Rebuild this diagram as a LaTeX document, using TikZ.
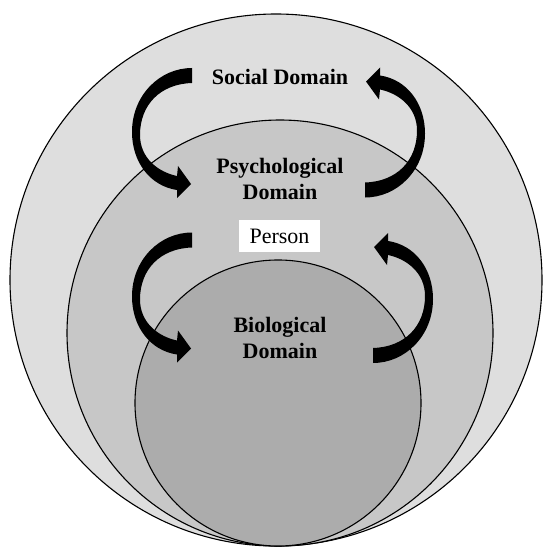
\documentclass[tikz,border=0pt]{standalone}
\usepackage{fontspec}
\setmainfont{Liberation Serif}
\definecolor{outerg}{RGB}{222,222,222}
\definecolor{midg}{RGB}{199,199,199}
\definecolor{innerg}{RGB}{172,172,172}
\tikzset{
  ring/.style={draw=black, line width=1.1pt},
  domainlabel/.style={font=\bfseries\fontsize{22}{26}\selectfont, align=center, inner sep=0pt},
  personbox/.style={fill=white, font=\fontsize{22}{26}\selectfont, minimum width=81pt, minimum height=32pt, inner sep=0pt},
  carrow/.pic={
    \fill[black] (192,68) -- (192,83)
      .. controls (160,84) and (140,105) .. (140,135)
      .. controls (140,158) and (158,172) .. (177,176)
      -- (178,166) -- (191,184) -- (177,198) -- (177,190)
      .. controls (150,186) and (132,162) .. (132,132)
      .. controls (132,95) and (160,68) .. (192,68) -- cycle;
  }
}
\begin{document}
\begin{tikzpicture}[x=1pt,y=-1pt]
\useasboundingbox (0,0) rectangle (542,548);
\path[ring, fill=outerg] (276,280) circle[radius=266];
\path[ring, fill=midg] (280,333) circle[radius=213];
\path[ring, fill=innerg] (278,403) circle[radius=143];

\node[domainlabel, anchor=base] (social) at (280,85) {Social Domain};
\node[domainlabel, anchor=north] (psych) at (280,158) {Psychological\\Domain};
\node[personbox] (person) at (279.5,236) {Person};
\node[domainlabel, anchor=north] (bio) at (280,317) {Biological\\Domain};

\pic at (0,0) {carrow};
\pic at (0,164.5) {carrow};
\pic[rotate around={180:(278.5,132.75)}] at (0,0) {carrow};
\pic[rotate around={180:(282.5,215.5)}] at (0,0) {carrow};
\end{tikzpicture}
\end{document}
